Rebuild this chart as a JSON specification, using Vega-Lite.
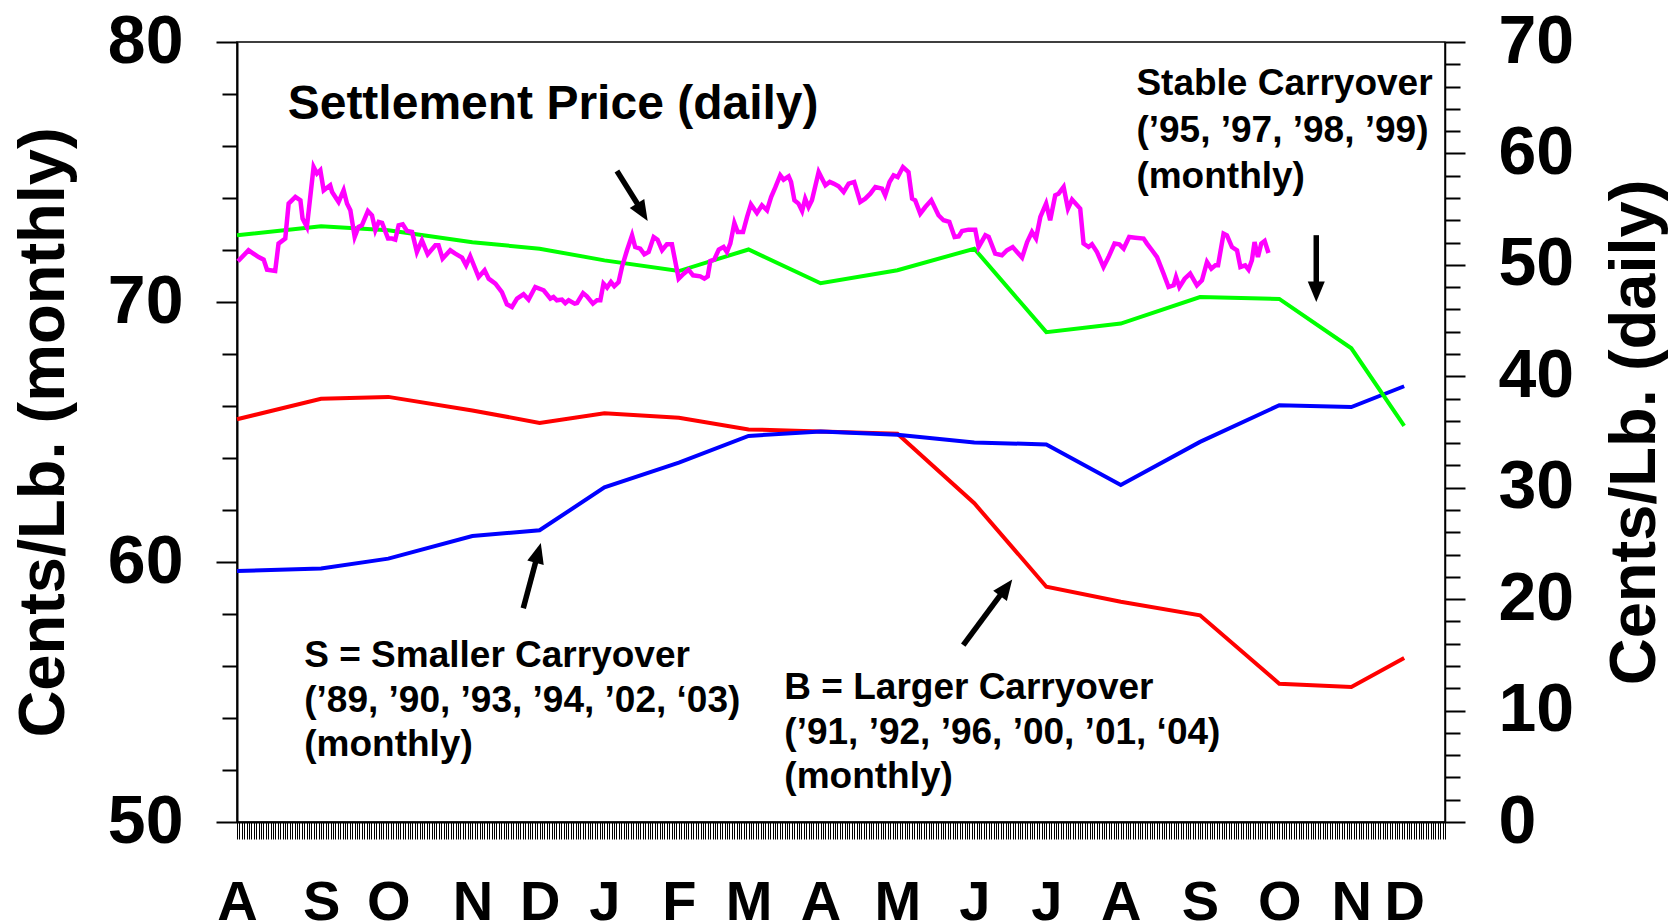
{
 "$schema": "https://vega.github.io/schema/vega-lite/v6.json",
 "width": 1208,
 "height": 780,
 "autosize": {"type": "none"},
 "padding": {"left": 237, "top": 42, "right": 233, "bottom": 102},
 "background": "white",
 "config": {
  "font": "Liberation Sans",
  "view": {"stroke": "#000000", "strokeWidth": 1.5},
  "axis": {"grid": false, "domainColor": "#000000", "domainWidth": 2, "tickColor": "#000000", "labelColor": "#000000", "titleColor": "#000000", "labelFont": "Liberation Sans", "titleFont": "Liberation Sans", "labelFontWeight": "bold", "titleFontWeight": "bold"}
 },
 "datasets": {
  "monthly": [
   {"day":0,"series":"B","price":65.49},{"day":35,"series":"B","price":66.28},{"day":63,"series":"B","price":66.35},{"day":98,"series":"B","price":65.83},{"day":126,"series":"B","price":65.35},{"day":153,"series":"B","price":65.72},{"day":184,"series":"B","price":65.55},{"day":213,"series":"B","price":65.10},{"day":243,"series":"B","price":65.02},{"day":275,"series":"B","price":64.93},{"day":307,"series":"B","price":62.26},{"day":337,"series":"B","price":59.05},{"day":368,"series":"B","price":58.47},{"day":401,"series":"B","price":57.95},{"day":434,"series":"B","price":55.32},{"day":464,"series":"B","price":55.19},{"day":486,"series":"B","price":56.31},
   {"day":0,"series":"S","price":59.65},{"day":35,"series":"S","price":59.75},{"day":63,"series":"S","price":60.13},{"day":98,"series":"S","price":61.00},{"day":126,"series":"S","price":61.22},{"day":153,"series":"S","price":62.87},{"day":184,"series":"S","price":63.82},{"day":213,"series":"S","price":64.85},{"day":243,"series":"S","price":65.02},{"day":275,"series":"S","price":64.89},{"day":307,"series":"S","price":64.60},{"day":337,"series":"S","price":64.52},{"day":368,"series":"S","price":62.96},{"day":401,"series":"S","price":64.62},{"day":434,"series":"S","price":66.03},{"day":464,"series":"S","price":65.96},{"day":486,"series":"S","price":66.76},
   {"day":0,"series":"Stable","price":72.57},{"day":35,"series":"Stable","price":72.91},{"day":63,"series":"Stable","price":72.76},{"day":98,"series":"Stable","price":72.30},{"day":126,"series":"Stable","price":72.05},{"day":153,"series":"Stable","price":71.60},{"day":184,"series":"Stable","price":71.19},{"day":213,"series":"Stable","price":72.02},{"day":243,"series":"Stable","price":70.72},{"day":275,"series":"Stable","price":71.22},{"day":307,"series":"Stable","price":72.05},{"day":337,"series":"Stable","price":68.84},{"day":368,"series":"Stable","price":69.17},{"day":401,"series":"Stable","price":70.19},{"day":434,"series":"Stable","price":70.12},{"day":464,"series":"Stable","price":68.22},{"day":486,"series":"Stable","price":65.24}
  ],
  "daily": [
   {"day":0.4,"price":50.32},{"day":4.8,"price":51.31},{"day":6.5,"price":51.06},{"day":9.0,"price":50.70},{"day":11.1,"price":50.47},{"day":12.5,"price":49.57},{"day":15.9,"price":49.45},{"day":17.3,"price":51.91},{"day":20.1,"price":52.36},{"day":21.5,"price":55.50},{"day":24.3,"price":56.09},{"day":26.4,"price":55.79},{"day":27.3,"price":54.15},{"day":29.1,"price":53.40},{"day":31.9,"price":58.78},{"day":33.3,"price":58.19},{"day":34.7,"price":58.49},{"day":36.1,"price":56.69},{"day":38.8,"price":57.14},{"day":39.6,"price":56.54},{"day":42.3,"price":55.64},{"day":44.4,"price":56.69},{"day":45.8,"price":55.50},{"day":47.2,"price":54.90},{"day":49.0,"price":52.50},{"day":50.6,"price":53.40},{"day":52.0,"price":53.55},{"day":54.5,"price":54.83},{"day":56.2,"price":54.45},{"day":57.6,"price":53.10},{"day":59.0,"price":53.85},{"day":60.4,"price":53.76},{"day":62.9,"price":52.36},{"day":64.5,"price":52.36},{"day":65.9,"price":52.26},{"day":67.3,"price":53.55},{"day":69.0,"price":53.64},{"day":70.8,"price":53.04},{"day":72.9,"price":52.95},{"day":74.9,"price":51.15},{"day":77.0,"price":52.20},{"day":79.4,"price":50.95},{"day":82.6,"price":51.75},{"day":83.9,"price":51.75},{"day":85.6,"price":50.56},{"day":88.8,"price":51.31},{"day":90.9,"price":51.01},{"day":93.7,"price":50.65},{"day":95.4,"price":49.96},{"day":97.1,"price":50.77},{"day":100.6,"price":48.91},{"day":103.1,"price":49.51},{"day":104.8,"price":48.76},{"day":107.6,"price":48.32},{"day":110.3,"price":47.56},{"day":112.4,"price":46.46},{"day":114.5,"price":46.22},{"day":116.6,"price":46.97},{"day":119.3,"price":47.36},{"day":121.4,"price":46.88},{"day":124.2,"price":48.01},{"day":127.7,"price":47.72},{"day":130.5,"price":46.97},{"day":131.8,"price":47.11},{"day":133.2,"price":46.82},{"day":135.3,"price":46.88},{"day":136.7,"price":46.57},{"day":138.1,"price":46.82},{"day":140.6,"price":46.52},
   {"day":141.6,"price":46.58},{"day":144.1,"price":47.47},{"day":145.7,"price":47.18},{"day":148.2,"price":46.52},{"day":149.9,"price":46.82},{"day":151.3,"price":46.82},{"day":152.6,"price":48.32},{"day":154.1,"price":47.96},{"day":155.7,"price":48.46},{"day":157.1,"price":48.08},{"day":158.9,"price":48.46},{"day":160.3,"price":49.81},{"day":162.4,"price":51.31},{"day":164.5,"price":52.65},{"day":165.8,"price":51.60},{"day":167.9,"price":51.46},{"day":169.6,"price":50.95},{"day":171.4,"price":51.15},{"day":173.5,"price":52.50},{"day":175.1,"price":52.26},{"day":177.0,"price":51.31},{"day":179.0,"price":51.84},{"day":181.1,"price":51.84},{"day":183.9,"price":48.76},{"day":186.0,"price":49.21},{"day":188.0,"price":49.57},{"day":189.9,"price":49.06},{"day":192.9,"price":48.97},{"day":194.6,"price":48.76},{"day":196.0,"price":48.97},{"day":197.1,"price":50.35},{"day":198.7,"price":50.47},{"day":200.6,"price":51.37},{"day":202.6,"price":51.60},{"day":204.0,"price":51.15},{"day":205.4,"price":51.91},{"day":207.1,"price":53.76},{"day":208.5,"price":52.95},{"day":210.7,"price":52.95},{"day":212.4,"price":54.30},{"day":214.0,"price":55.43},{"day":216.5,"price":54.65},{"day":218.6,"price":55.34},{"day":220.7,"price":54.90},{"day":222.4,"price":56.09},{"day":224.1,"price":56.93},{"day":226.2,"price":58.04},{"day":227.6,"price":57.65},{"day":229.7,"price":57.95},{"day":230.7,"price":57.44},{"day":232.1,"price":55.79},{"day":233.8,"price":55.50},{"day":235.3,"price":54.83},{"day":236.6,"price":55.94},{"day":238.0,"price":55.19},{"day":239.4,"price":55.79},{"day":242.2,"price":58.33},{"day":245.0,"price":57.14},{"day":246.8,"price":57.44},{"day":248.4,"price":57.29},{"day":250.5,"price":57.05},{"day":252.6,"price":56.54},{"day":254.7,"price":57.29},{"day":257.0,"price":57.44},{"day":259.5,"price":55.64},{"day":261.6,"price":55.94},{"day":263.7,"price":56.39},{"day":265.8,"price":56.99},{"day":268.6,"price":56.84},{"day":269.9,"price":56.24},{"day":271.7,"price":57.44},{"day":273.4,"price":58.04},{"day":275.1,"price":57.88},{"day":277.3,"price":58.78},{"day":279.6,"price":58.33},{"day":281.1,"price":55.94},{"day":282.4,"price":55.79},{"day":284.5,"price":54.60},{"day":286.6,"price":55.19},
   {"day":289.1,"price":55.79},{"day":292.1,"price":54.45},{"day":294.2,"price":54.00},{"day":296.6,"price":53.85},{"day":298.8,"price":52.50},{"day":300.5,"price":52.56},{"day":301.9,"price":53.04},{"day":304.6,"price":53.16},{"day":307.4,"price":53.16},{"day":308.8,"price":51.60},{"day":311.6,"price":52.65},{"day":313.0,"price":52.50},{"day":315.7,"price":51.01},{"day":318.5,"price":50.86},{"day":320.6,"price":51.31},{"day":323.0,"price":51.60},{"day":324.8,"price":51.15},{"day":326.9,"price":50.65},{"day":329.0,"price":52.05},{"day":331.0,"price":52.95},{"day":332.7,"price":52.36},{"day":334.5,"price":54.30},{"day":336.9,"price":55.50},{"day":338.6,"price":54.00},{"day":340.7,"price":56.24},{"day":342.1,"price":56.39},{"day":344.2,"price":56.99},{"day":346.0,"price":55.05},{"day":347.7,"price":55.86},{"day":351.1,"price":55.05},{"day":352.5,"price":51.91},{"day":354.6,"price":51.60},{"day":356.0,"price":51.84},{"day":358.1,"price":51.15},{"day":360.8,"price":49.81},{"day":362.9,"price":50.70},{"day":365.4,"price":51.91},{"day":367.4,"price":51.84},{"day":369.2,"price":51.46},{"day":371.5,"price":52.50},{"day":374.0,"price":52.44},{"day":377.5,"price":52.36},{"day":378.9,"price":51.91},{"day":381.0,"price":51.31},{"day":383.1,"price":50.70},{"day":385.8,"price":49.21},{"day":387.9,"price":48.01},{"day":390.0,"price":48.16},{"day":391.0,"price":48.91},{"day":392.4,"price":48.01},{"day":394.6,"price":48.76},{"day":396.9,"price":49.21},{"day":399.7,"price":48.16},{"day":401.8,"price":48.61},{"day":403.9,"price":50.26},{"day":405.7,"price":49.66},{"day":407.4,"price":49.96},{"day":408.5,"price":49.96},{"day":410.8,"price":52.80},{"day":412.2,"price":52.65},{"day":414.3,"price":51.60},{"day":416.4,"price":51.31},{"day":417.8,"price":49.81},{"day":419.8,"price":49.96},{"day":421.2,"price":49.57},{"day":422.6,"price":50.41},{"day":423.7,"price":52.05},{"day":425.1,"price":50.70},{"day":426.5,"price":51.91},{"day":427.9,"price":52.14},{"day":429.5,"price":51.06}
  ],
  "notes": [
   {"note":"settlement","day":21.1,"price":77.05,"label":"Settlement Price (daily)"},
   {"note":"stable","day":374.5,"price":77.95,"label":"Stable Carryover\n(’95, ’97, ’98, ’99)\n(monthly)"},
   {"note":"smaller","day":28.0,"price":55.96,"label":"S = Smaller Carryover\n(’89, ’90, ’93, ’94, ’02, ‘03)\n(monthly)"},
   {"note":"larger","day":227.9,"price":54.72,"label":"B = Larger Carryover\n(’91, ’92, ’96, ’00, ’01, ‘04)\n(monthly)"}
  ],
  "arrows": [
   {"arrow":"settlement","day":158.2,"price":75.04,"day2":169.0,"price2":73.44},
   {"arrow":"stable","day":449.4,"price":72.57,"day2":449.4,"price2":70.38},
   {"arrow":"smaller","day":119.2,"price":58.22,"day2":125.4,"price2":60.36},
   {"arrow":"larger","day":302.4,"price":56.80,"day2":320.3,"price2":59.03}
  ],
  "heads": [
   {"arrow":"settlement","day":171.0,"price":73.12},
   {"arrow":"stable","day":449.4,"price":70.0},
   {"arrow":"smaller","day":126.5,"price":60.73},
   {"arrow":"larger","day":322.8,"price":59.33}
  ]
 },
 "layer": [
  {
   "layer": [
    {
     "data": {"name": "monthly"},
     "mark": {"type": "line", "strokeWidth": 4},
     "encoding": {
      "x": {"field": "day", "type": "quantitative", "scale": {"domain": [0, 503], "nice": false, "zero": false},
       "axis": {"title": null, "tickCount": 503, "tickSize": 17, "tickWidth": 1, "domainWidth": 2,
        "labelExpr": "['A','S','O','N','D','J','F','M','A','M','J','J','A','S','O','N','D'][indexof([0,35,63,98,126,153,184,213,243,275,307,337,368,401,434,464,486], datum.value)] || ''",
        "labelFontSize": 56, "labelPadding": 36, "labelOverlap": false, "labelBound": false, "labelFlush": false}},
      "y": {"field": "price", "type": "quantitative", "scale": {"domain": [50, 80], "nice": false, "zero": false},
       "axis": {"title": "Cents/Lb. (monthly)", "values": [50,52,54,56,58,60,62,64,66,68,70,72,74,76,78,80],
        "labelExpr": "datum.value % 10 === 0 ? datum.label : ''",
        "tickSize": {"condition": {"test": "datum.value % 10 === 0", "value": 21}, "value": 15},
        "tickWidth": 2, "labelFontSize": 68, "labelPadding": 33, "titleFontSize": 65, "titlePadding": 30,
        "labelOverlap": false, "labelBound": false, "labelFlush": false}},
      "color": {"field": "series", "type": "nominal", "scale": {"domain": ["B", "S", "Stable"], "range": ["#ff0000", "#0000ff", "#00ff00"]}, "legend": null}
     }
    },
    {
     "data": {"name": "notes"},
     "transform": [{"filter": "datum.note === 'settlement'"}],
     "mark": {"type": "text", "align": "left", "baseline": "alphabetic", "fontWeight": "bold", "fontSize": 48, "color": "#000000"},
     "encoding": {
      "x": {"field": "day", "type": "quantitative", "scale": {"domain": [0, 503]}},
      "y": {"field": "price", "type": "quantitative", "scale": {"domain": [50, 80]}},
      "text": {"field": "label"}
     }
    },
    {
     "data": {"name": "notes"},
     "transform": [{"filter": "datum.note === 'stable'"}],
     "mark": {"type": "text", "align": "left", "baseline": "alphabetic", "fontWeight": "bold", "fontSize": 37, "lineBreak": "\n", "lineHeight": 46.5, "color": "#000000"},
     "encoding": {
      "x": {"field": "day", "type": "quantitative", "scale": {"domain": [0, 503]}},
      "y": {"field": "price", "type": "quantitative", "scale": {"domain": [50, 80]}},
      "text": {"field": "label"}
     }
    },
    {
     "data": {"name": "notes"},
     "transform": [{"filter": "datum.note === 'smaller' || datum.note === 'larger'"}],
     "mark": {"type": "text", "align": "left", "baseline": "alphabetic", "fontWeight": "bold", "fontSize": 37, "lineBreak": "\n", "lineHeight": 44.5, "color": "#000000"},
     "encoding": {
      "x": {"field": "day", "type": "quantitative", "scale": {"domain": [0, 503]}},
      "y": {"field": "price", "type": "quantitative", "scale": {"domain": [50, 80]}},
      "text": {"field": "label"}
     }
    },
    {
     "data": {"name": "arrows"},
     "mark": {"type": "rule", "strokeWidth": 5.5, "color": "#000000", "strokeCap": "butt"},
     "encoding": {
      "x": {"field": "day", "type": "quantitative", "scale": {"domain": [0, 503]}},
      "y": {"field": "price", "type": "quantitative", "scale": {"domain": [50, 80]}},
      "x2": {"field": "day2"},
      "y2": {"field": "price2"}
     }
    },
    {
     "data": {"name": "heads"},
     "mark": {"type": "point", "shape": "M0,0L1,2.4L-1,2.4Z", "filled": true, "color": "#000000", "opacity": 1, "size": 290, "strokeWidth": 0},
     "encoding": {
      "x": {"field": "day", "type": "quantitative", "scale": {"domain": [0, 503]}},
      "y": {"field": "price", "type": "quantitative", "scale": {"domain": [50, 80]}},
      "angle": {"field": "arrow", "type": "nominal", "scale": {"type": "ordinal", "domain": ["settlement", "stable", "smaller", "larger"], "range": [148.5, 180, 15, 36.6]}, "legend": null}
     }
    }
   ]
  },
  {
   "data": {"name": "daily"},
   "mark": {"type": "line", "strokeWidth": 4.5, "color": "#ff00ff"},
   "encoding": {
    "x": {"field": "day", "type": "quantitative", "scale": {"domain": [0, 503]}},
    "y": {"field": "price", "type": "quantitative", "scale": {"domain": [0, 70], "nice": false, "zero": false},
     "axis": {"orient": "right", "title": "Cents/Lb. (daily)", "values": [0,2,4,6,8,10,12,14,16,18,20,22,24,26,28,30,32,34,36,38,40,42,44,46,48,50,52,54,56,58,60,62,64,66,68,70],
      "labelExpr": "datum.value % 10 === 0 ? datum.label : ''",
      "tickSize": {"condition": {"test": "datum.value % 10 === 0", "value": 20}, "value": 15},
      "tickWidth": 2, "domainWidth": 1.5, "labelFontSize": 68, "labelPadding": 33, "titleFontSize": 65, "titlePadding": 30,
      "titleAngle": -90, "titleBaseline": "top",
      "labelOverlap": false, "labelBound": false, "labelFlush": false}}
   }
  }
 ],
 "resolve": {"scale": {"y": "independent"}}
}
